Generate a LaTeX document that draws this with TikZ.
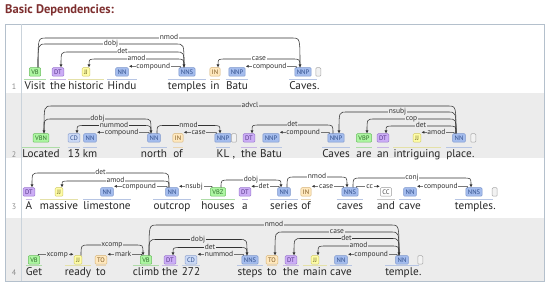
\documentclass[tikz,border=0pt]{standalone}
\usepackage{fontspec}
\setmainfont{PT Sans}
\usetikzlibrary{arrows.meta,calc}
\definecolor{nnfill}{HTML}{A4BCED}\definecolor{nndraw}{HTML}{7C96CC}\definecolor{nntext}{HTML}{2F4D8A}
\definecolor{vbfill}{HTML}{ADF6A2}\definecolor{vbdraw}{HTML}{6BBF5F}\definecolor{vbtext}{HTML}{2F6B2A}
\definecolor{jjfill}{HTML}{FFFDA8}\definecolor{jjdraw}{HTML}{CFC860}\definecolor{jjtext}{HTML}{6B6520}
\definecolor{dtfill}{HTML}{CCADF6}\definecolor{dtdraw}{HTML}{9C7AD0}\definecolor{dttext}{HTML}{4E2F80}
\definecolor{infill}{HTML}{FFE8BE}\definecolor{indraw}{HTML}{D6B274}\definecolor{intext}{HTML}{7A5520}
\definecolor{cdfill}{HTML}{CCDAF6}\definecolor{cddraw}{HTML}{8FA3CF}\definecolor{cdtext}{HTML}{2F4D8A}
\definecolor{ccfill}{HTML}{FFFFFF}\definecolor{ccdraw}{HTML}{9A9A9A}\definecolor{cctext}{HTML}{444444}
\definecolor{pufill}{HTML}{F2F2F2}\definecolor{pudraw}{HTML}{A8A8A8}
\definecolor{rowgray}{HTML}{ECECEC}
\definecolor{framecol}{HTML}{B4C0CC}
\definecolor{titlecol}{HTML}{7E2F2F}
\definecolor{arccol}{HTML}{333333}
\tikzset{
  tagbox/.style={rectangle, rounded corners=1pt, draw, line width=0.5pt,
    font=\fontsize{6.5}{7}\selectfont, inner xsep=2pt, inner ysep=0pt,
    minimum height=8.5pt, text height=4.6pt, text depth=0pt},
  pbox/.style={tagbox, fill=pufill, draw=pudraw, minimum width=5pt, inner xsep=0pt},
  wordtext/.style={font=\fontsize{11.2}{12}\selectfont, inner sep=0pt,
    text height=8pt, text depth=2.6pt, text=black!85},
  numtext/.style={font=\fontsize{8}{9}\selectfont, text=black!45, inner sep=0pt},
  titletext/.style={font=\fontsize{12.5}{14}\selectfont\bfseries, text=titlecol, inner sep=0pt},
  deparc/.style={draw=arccol, line width=0.55pt, -{Latex[length=3pt,width=3pt]}},
  deplabel/.style={font=\fontsize{7.5}{8}\selectfont, fill=\rowbg, inner xsep=0.8pt, inner ysep=0.3pt,
    text height=4.5pt, text depth=0.8pt, text=black!80}
}
\newcommand\tok[6]{%
  \node[tagbox, fill=#4fill, draw=#4draw, text=#4text] (r#1t#2) at (#3,\tagy) {#5};
  \node[wordtext] (r#1w#2) at (#3,\wordy) {#6};
  \draw[#4draw!55, line width=1pt] ([yshift=2.2pt]r#1w#2.north west) -- ([yshift=2.2pt]r#1w#2.north east);}
\newcommand\punct[5]{%
  \node[wordtext, anchor=west] (r#1w#2) at ([xshift=#4pt]r#1w#3.east) {#5};
  \node[pbox] (r#1t#2) at (r#1w#2.center |- r#1t#3.center) {};}
\newcommand\arcR[4]{%
  \draw[deparc] let \p1=(#1.north), \p2=(#2.north) in
    (\x1+3pt,\y1) .. controls (\x1+3pt,-#3pt) .. (\x1+11pt,-#3pt)
    -- node[deplabel]{#4} (\x2-11pt,-#3pt)
    .. controls (\x2-3pt,-#3pt) .. (\x2-3pt,\y2);}
\newcommand\arcL[4]{%
  \draw[deparc] let \p1=(#1.north), \p2=(#2.north) in
    (\x1-3pt,\y1) .. controls (\x1-3pt,-#3pt) .. (\x1-11pt,-#3pt)
    -- node[deplabel]{#4} (\x2+11pt,-#3pt)
    .. controls (\x2+3pt,-#3pt) .. (\x2+3pt,\y2);}
\newcommand\flatL[3]{%
  \draw[deparc] let \p1=(#1.north west), \p2=(#2.north east) in
    (\x1+2pt,\y1) .. controls (\x1+2pt,\y1+1.2pt) .. (\x1-1pt,\y1+1.2pt)
    -- node[deplabel]{#3} (\x2+0.3pt,\y1+1.2pt);}
\newcommand\flatR[3]{%
  \draw[deparc] let \p1=(#1.north east), \p2=(#2.north west) in
    (\x1-2pt,\y1) .. controls (\x1-2pt,\y1+1.2pt) .. (\x1+1pt,\y1+1.2pt)
    -- node[deplabel]{#3} (\x2-0.3pt,\y1+1.2pt);}
\begin{document}
\begin{tikzpicture}[x=1pt,y=-1pt]
\useasboundingbox (0,0) rectangle (550,286);
\fill[white] (0,0) rectangle (550,286);
\node[titletext, anchor=west] (title) at (5,10.5) {Basic Dependencies:};
\fill[rowgray] (5,93) rectangle (544,158);
\fill[rowgray] (5,218) rectangle (544,281);
\draw[framecol, line width=0.8pt] (5,24) rectangle (544,281);
\draw[framecol!70, line width=0.6pt] (21,24) -- (21,281);

% ---------- row 1
\def\tagy{72}\def\wordy{87}\def\rowbg{white}
\node[numtext] (n1) at (14,\wordy) {1};
\tok{1}{1}{35}{vb}{VB}{Visit}
\tok{1}{2}{58}{dt}{DT}{the}
\tok{1}{3}{86}{jj}{JJ}{historic}
\tok{1}{4}{122}{nn}{NN}{Hindu}
\tok{1}{5}{187}{nn}{NNS}{temples}
\tok{1}{6}{215}{in}{IN}{in}
\tok{1}{7}{237}{nn}{NNP}{Batu}
\tok{1}{8}{303}{nn}{NNP}{Caves}
\punct{1}{9}{8}{0}{.}
\arcR{r1t1}{r1t8}{38}{nmod}
\arcR{r1t1}{r1t5}{44}{dobj}
\arcL{r1t5}{r1t2}{52}{det}
\arcL{r1t5}{r1t3}{59}{amod}
\flatL{r1t5}{r1t4}{compound}
\arcL{r1t8}{r1t6}{59}{case}
\flatL{r1t8}{r1t7}{compound}

% ---------- row 2
\def\tagy{138}\def\wordy{155}\def\rowbg{rowgray}
\node[numtext] (n2) at (14,\wordy) {2};
\tok{2}{1}{41}{vb}{VBN}{Located}
\tok{2}{2}{74}{cd}{CD}{13}
\tok{2}{3}{90}{nn}{NN}{km}
\tok{2}{4}{154}{nn}{NN}{north}
\tok{2}{5}{178}{in}{IN}{of}
\tok{2}{6}{223}{nn}{NNP}{KL}
\punct{2}{7}{6}{3}{,}
\tok{2}{8}{249}{dt}{DT}{the}
\tok{2}{9}{271}{nn}{NNP}{Batu}
\tok{2}{10}{336}{nn}{NNP}{Caves}
\tok{2}{11}{364}{vb}{VBP}{are}
\tok{2}{12}{383}{dt}{DT}{an}
\tok{2}{13}{417}{jj}{JJ}{intriguing}
\tok{2}{14}{459}{nn}{NN}{place}
\punct{2}{15}{14}{0}{.}
\arcL{r2t14}{r2t1}{106}{advcl}
\arcR{r2t1}{r2t4}{119}{dobj}
\arcL{r2t4}{r2t2}{125.5}{nummod}
\flatL{r2t4}{r2t3}{compound}
\arcR{r2t4}{r2t6}{125.5}{nmod}
\flatL{r2t6}{r2t5}{case}
\arcL{r2t10}{r2t8}{125}{det}
\flatL{r2t10}{r2t9}{compound}
\arcL{r2t14}{r2t10}{112}{nsubj}
\arcL{r2t14}{r2t11}{119}{cop}
\arcL{r2t14}{r2t12}{126}{det}
\flatL{r2t14}{r2t13}{amod}

% ---------- row 3
\def\tagy{192}\def\wordy{207}\def\rowbg{white}
\node[numtext] (n3) at (14,\wordy) {3};
\tok{3}{1}{29}{dt}{DT}{A}
\tok{3}{2}{59}{jj}{JJ}{massive}
\tok{3}{3}{107}{nn}{NN}{limestone}
\tok{3}{4}{172}{nn}{NN}{outcrop}
\tok{3}{5}{218}{vb}{VBZ}{houses}
\tok{3}{6}{245}{dt}{DT}{a}
\tok{3}{7}{284}{nn}{NN}{series}
\tok{3}{8}{306}{in}{IN}{of}
\tok{3}{9}{350}{nn}{NNS}{caves}
\tok{3}{10}{386}{cc}{CC}{and}
\tok{3}{11}{410}{nn}{NN}{cave}
\tok{3}{12}{474}{nn}{NNS}{temples}
\punct{3}{13}{12}{0}{.}
\arcL{r3t4}{r3t1}{173}{det}
\arcL{r3t4}{r3t2}{181}{amod}
\flatL{r3t4}{r3t3}{compound}
\flatL{r3t5}{r3t4}{nsubj}
\arcR{r3t5}{r3t7}{180}{dobj}
\flatL{r3t7}{r3t6}{det}
\arcR{r3t7}{r3t9}{177}{nmod}
\flatL{r3t9}{r3t8}{case}
\arcR{r3t9}{r3t12}{178}{conj}
\flatR{r3t9}{r3t10}{cc}
\flatL{r3t12}{r3t11}{compound}

% ---------- row 4
\def\tagy{260}\def\wordy{273}\def\rowbg{rowgray}
\node[numtext] (n4) at (14,\wordy) {4};
\tok{4}{1}{34}{vb}{VB}{Get}
\tok{4}{2}{78}{jj}{JJ}{ready}
\tok{4}{3}{101}{in}{TO}{to}
\tok{4}{4}{146}{vb}{VB}{climb}
\tok{4}{5}{170}{dt}{DT}{the}
\tok{4}{6}{191}{cd}{CD}{272}
\tok{4}{7}{250}{nn}{NNS}{steps}
\tok{4}{8}{272}{in}{TO}{to}
\tok{4}{9}{291}{dt}{DT}{the}
\tok{4}{10}{315}{jj}{JJ}{main}
\tok{4}{11}{341}{nn}{NN}{cave}
\tok{4}{12}{402}{nn}{NN}{temple}
\punct{4}{13}{12}{0}{.}
\flatR{r4t1}{r4t2}{xcomp}
\arcR{r4t2}{r4t4}{245}{xcomp}
\flatL{r4t4}{r4t3}{mark}
\arcR{r4t4}{r4t12}{225}{nmod}
\arcR{r4t4}{r4t7}{239.5}{dobj}
\arcL{r4t7}{r4t5}{247.5}{det}
\flatL{r4t7}{r4t6}{nummod}
\arcL{r4t12}{r4t8}{232}{case}
\arcL{r4t12}{r4t9}{238.5}{det}
\arcL{r4t12}{r4t10}{246}{amod}
\flatL{r4t12}{r4t11}{compound}
\end{tikzpicture}
\end{document}
